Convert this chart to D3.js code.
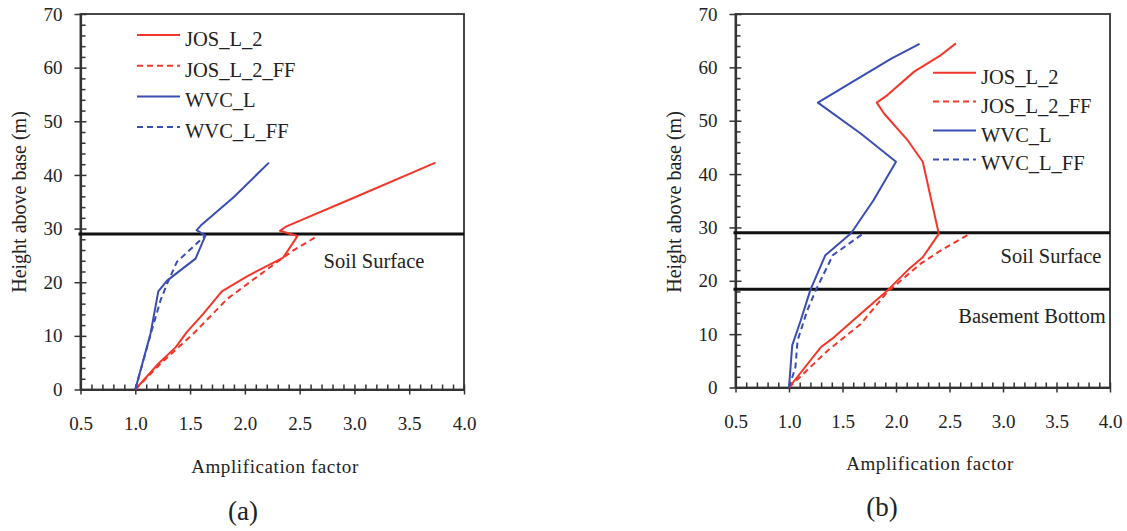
<!DOCTYPE html>
<html>
<head>
<meta charset="utf-8">
<script src="https://cdn.jsdelivr.net/npm/d3@7"></script>
<style>
  html, body { margin: 0; padding: 0; background: #fff; }
  svg { display: block; }
  svg text { font-family: "Liberation Serif", "Times New Roman", Times, Tinos, "DejaVu Serif", "Noto Serif", serif !important; fill: #222; }
</style>
</head>
<body>
<svg id="chart" width="1127" height="531"></svg>
<script>
// ---------- DATA ----------
const seriesNames = ["JOS_L_2", "JOS_L_2_FF", "WVC_L", "WVC_L_FF"];
const xTickLabels = [0.5, 1.0, 1.5, 2.0, 2.5, 3.0, 3.5, 4.0];
const yTickLabels = [0, 10, 20, 30, 40, 50, 60, 70];

// Panel (a)
const aJOS_x   = [1.00, 1.21, 1.37, 1.47, 1.62, 1.79, 2.02, 2.35, 2.48, 2.32, 2.38, 3.00, 3.74];
const aJOS_h   = [0,    4.8,  7.9,  10.7, 14.1, 18.3, 21.1, 24.6, 28.6, 29.6, 30.4, 35.8, 42.3];
const aJOSFF_x = [1.00, 1.23, 1.53, 1.84, 2.23, 2.44, 2.67];
const aJOSFF_h = [0,    4.8,  10.4, 16.9, 22.8, 25.9, 28.7];
const aWVC_x   = [1.00, 1.14, 1.21, 1.29, 1.55, 1.64, 1.56, 1.60, 1.90, 2.22];
const aWVC_h   = [0,    10.5, 18.3, 20.3, 24.4, 28.7, 29.7, 30.6, 35.9, 42.3];
const aWVCFF_x = [1.00, 1.15, 1.23, 1.29, 1.38, 1.56, 1.64];
const aWVCFF_h = [0,    11.0, 16.6, 19.7, 23.8, 27.2, 28.7];
const aLevels  = [29.0];
const aLevelLabels = ["Soil Surface"];

// Panel (b)
const bJOS_x   = [1.00, 1.30, 1.42, 1.67, 1.92, 2.11, 2.25, 2.40, 2.25, 2.11, 1.89, 1.82, 1.92, 2.17, 2.42, 2.56];
const bJOS_h   = [0,    7.6,  9.4,  13.8, 18.2, 22.0, 24.4, 28.8, 42.3, 46.3, 51.3, 53.4, 54.8, 59.2, 62.3, 64.5];
const bJOSFF_x = [1.00, 1.36, 1.67, 1.92, 2.23, 2.42, 2.68];
const bJOSFF_h = [0,    6.9,  11.9, 17.9, 23.2, 25.7, 28.7];
const bWVC_x   = [1.00, 1.03, 1.11, 1.20, 1.34, 1.58, 1.79, 2.00, 1.67, 1.27, 1.62, 1.96, 2.22];
const bWVC_h   = [0,    7.9,  12.6, 18.3, 24.8, 28.9, 35.1, 42.3, 47.6, 53.4, 57.6, 61.7, 64.4];
const bWVCFF_x = [1.00, 1.06, 1.08, 1.17, 1.25, 1.41, 1.69];
const bWVCFF_h = [0,    3.8,  8.8,  14.4, 18.2, 24.8, 28.8];
const bLevels  = [29.0, 18.4];
const bLevelLabels = ["Soil Surface", "Basement Bottom"];

// ---------- STYLE ----------
const RED = "#f4362a", BLUE = "#3a4db2";
const seriesStyle = [
  {color: RED,  dash: null},
  {color: RED,  dash: "6,4"},
  {color: BLUE, dash: null},
  {color: BLUE, dash: "6,4"}
];

const svg = d3.select("#chart");

function zip(xs, hs) { return xs.map((v, i) => [v, hs[i]]); }

function drawPanel(p) {
  const x = d3.scaleLinear().domain([0.5, 4.0]).range([p.left, p.right]);
  const y = d3.scaleLinear().domain([0, 70]).range([p.bottom, p.top]);
  const g = svg.append("g");

  g.append("rect").attr("x", p.left).attr("y", p.top)
    .attr("width", p.right - p.left).attr("height", p.bottom - p.top)
    .attr("fill", "none").attr("stroke", "#333").attr("stroke-width", 1.8);

  const yMinor = d3.range(0, 71, 2).filter(v => v % 10 !== 0);
  const xMinor = d3.range(5, 41, 1).map(v => v / 10).filter(v => Math.round(v * 10) % 5 !== 0);
  g.append("g").attr("transform", `translate(${p.left},0)`)
    .call(d3.axisLeft(y).tickValues(yMinor).tickSize(-5).tickFormat(""))
    .call(s => s.select(".domain").remove())
    .selectAll("line").attr("stroke", "#333").attr("stroke-width", 1.5);
  g.append("g").attr("transform", `translate(0,${p.bottom})`)
    .call(d3.axisBottom(x).tickValues(xMinor).tickSize(-5).tickFormat(""))
    .call(s => s.select(".domain").remove())
    .selectAll("line").attr("stroke", "#333").attr("stroke-width", 1.5);

  const ya = g.append("g").attr("transform", `translate(${p.left},0)`)
    .call(d3.axisLeft(y).tickValues(yTickLabels).tickSize(6).tickPadding(12).tickSizeOuter(0).tickFormat(d3.format("d")));
  ya.attr("font-family", null);
  ya.select(".domain").attr("stroke", "#333").attr("stroke-width", 2.2);
  ya.selectAll(".tick line").attr("x1", 6).attr("x2", -6).attr("stroke", "#333").attr("stroke-width", 1.5);
  ya.selectAll(".tick text").attr("font-size", 19).attr("fill", "#222");

  const xa = g.append("g").attr("transform", `translate(0,${p.bottom})`)
    .call(d3.axisBottom(x).tickValues(xTickLabels).tickSize(5).tickPadding(22).tickSizeOuter(0).tickFormat(d3.format(".1f")));
  xa.attr("font-family", null);
  xa.select(".domain").attr("stroke", "#333").attr("stroke-width", 2.2);
  xa.selectAll(".tick line").attr("y1", -5).attr("y2", 5).attr("stroke", "#333").attr("stroke-width", 1.5);
  xa.selectAll(".tick text").attr("font-size", 19).attr("fill", "#222");

  p.levels.forEach((lv, i) => {
    g.append("line").attr("x1", p.left - 2).attr("x2", p.right)
      .attr("y1", y(lv)).attr("y2", y(lv))
      .attr("stroke", "#111").attr("stroke-width", 3);
    g.append("text").attr("x", p.levelLabelX[i]).attr("y", y(lv) + p.levelLabelDy[i])
      .attr("text-anchor", "middle").attr("dominant-baseline", "central")
      .attr("font-size", 20.5).text(p.levelLabels[i]);
  });

  const line = d3.line().x(d => x(d[0])).y(d => y(d[1]));
  p.series.forEach((s, i) => {
    g.append("path").datum(s).attr("d", line)
      .attr("fill", "none").attr("stroke", seriesStyle[i].color)
      .attr("stroke-width", 2)
      .attr("stroke-dasharray", seriesStyle[i].dash)
      .attr("stroke-linejoin", "round");
  });

  seriesNames.forEach((n, i) => {
    const ly = p.legY + i * p.legStep;
    g.append("line").attr("x1", p.legX).attr("x2", p.legX + 43)
      .attr("y1", ly).attr("y2", ly)
      .attr("stroke", seriesStyle[i].color).attr("stroke-width", 2)
      .attr("stroke-dasharray", seriesStyle[i].dash);
    g.append("text").attr("x", p.legX + 48).attr("y", ly + 4)
      .attr("dominant-baseline", "central").attr("font-size", 20.5).text(n);
  });

  g.append("text").attr("x", p.xTitleX).attr("y", p.xTitleY)
    .attr("text-anchor", "middle").attr("dominant-baseline", "central")
    .attr("font-size", 19).attr("letter-spacing", 0.6).text("Amplification factor");
  g.append("text").attr("transform", `translate(${p.yTitleX},${p.yTitleY}) rotate(-90)`)
    .attr("text-anchor", "middle").attr("dominant-baseline", "central")
    .attr("font-size", 20).text("Height above base (m)");
  g.append("text").attr("x", p.capX).attr("y", p.capY)
    .attr("text-anchor", "middle").attr("dominant-baseline", "central")
    .attr("font-size", 27).text(p.caption);
}

drawPanel({
  left: 80.5, right: 464, top: 14, bottom: 389.5,
  series: [zip(aJOS_x, aJOS_h), zip(aJOSFF_x, aJOSFF_h), zip(aWVC_x, aWVC_h), zip(aWVCFF_x, aWVCFF_h)],
  levels: aLevels, levelLabels: aLevelLabels, levelLabelX: [374], levelLabelDy: [27],
  legX: 137, legY: 35, legStep: 30.7,
  xTitleX: 275, xTitleY: 466, yTitleX: 19, yTitleY: 202,
  capX: 243, capY: 511, caption: "(a)"
});

drawPanel({
  left: 735.5, right: 1110, top: 14, bottom: 387.5,
  series: [zip(bJOS_x, bJOS_h), zip(bJOSFF_x, bJOSFF_h), zip(bWVC_x, bWVC_h), zip(bWVCFF_x, bWVCFF_h)],
  levels: bLevels, levelLabels: bLevelLabels, levelLabelX: [1051, 1032], levelLabelDy: [23, 27],
  legX: 933, legY: 72.7, legStep: 28.9,
  xTitleX: 930, xTitleY: 463, yTitleX: 674, yTitleY: 202,
  capX: 882, capY: 507, caption: "(b)"
});
</script>
</body>
</html>
